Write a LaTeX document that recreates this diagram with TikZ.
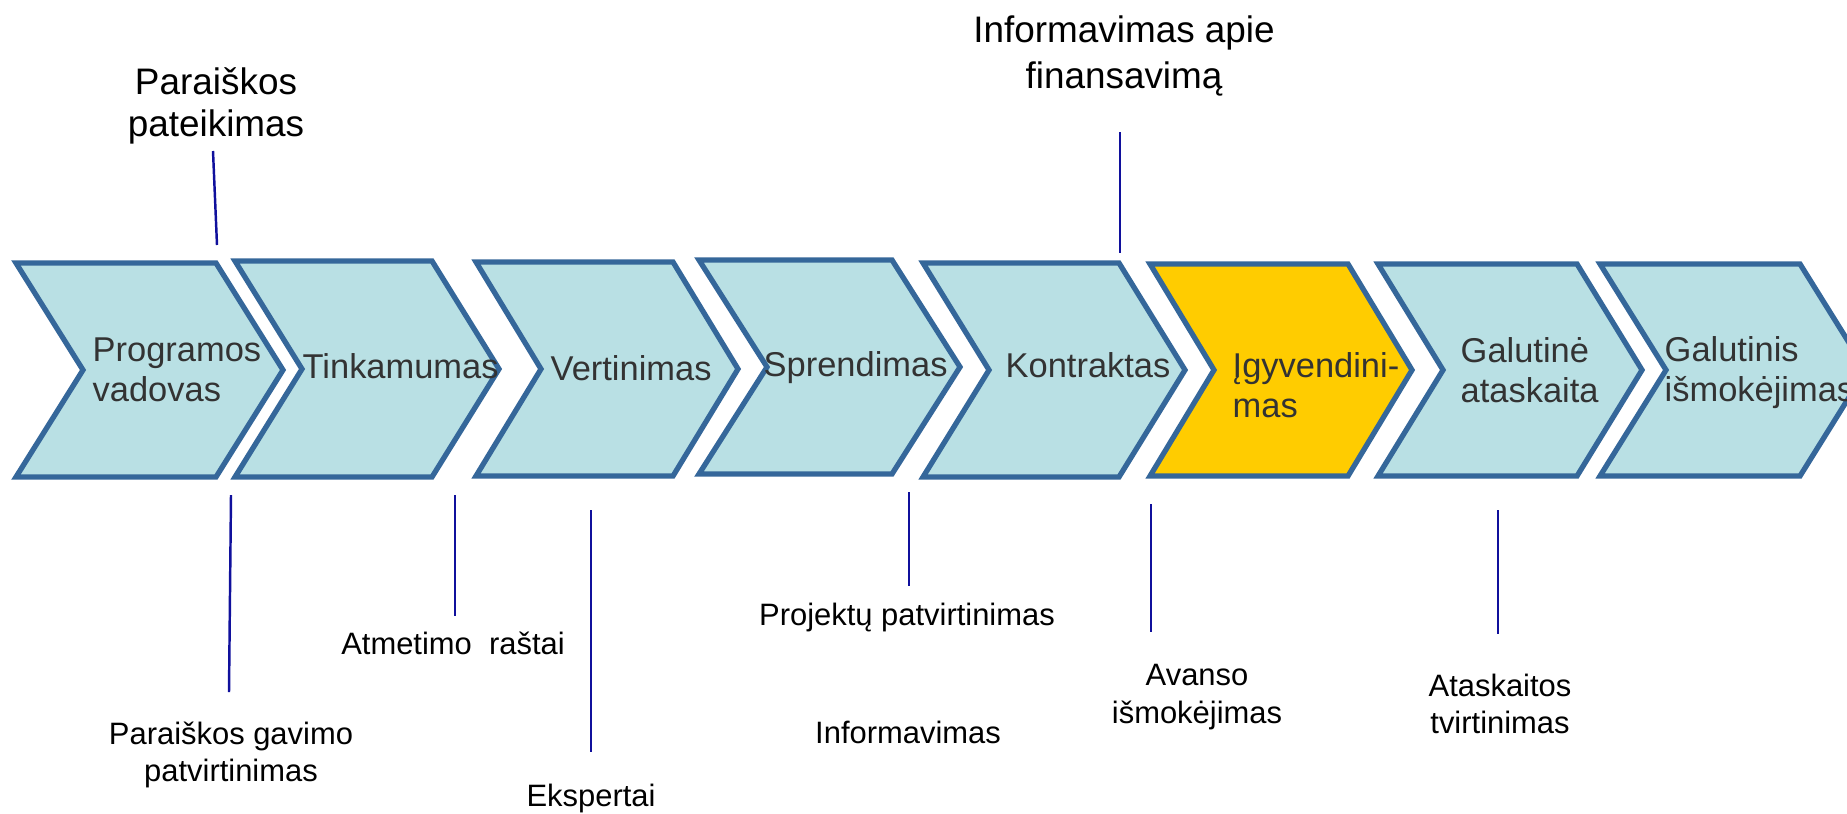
\documentclass[tikz,border=0pt]{standalone}
\usepackage{fontspec}
\setmainfont{Liberation Sans}
\begin{document}
\begin{tikzpicture}[x=0.1mm, y=-0.1mm,
  chev/.style={draw=colorframe, fill=colorstep, line width=1.5pt, line join=miter},
  chevtext/.style={inner sep=0pt, text=colortext, align=left, font=\fontsize{9.8}{11.4}\selectfont},
  toplabel/.style={inner sep=0pt, align=center, font=\fontsize{10.5}{11.8}\selectfont},
  botlabel/.style={inner sep=0pt, align=center, font=\fontsize{8.8}{10.7}\selectfont},
  tick/.style={draw=colortick, line width=0.7pt}]
% Define colors
\definecolor{colorframe}{HTML}{35679A}
\definecolor{colorstep}{HTML}{B9E0E4}
\definecolor{colornow}{HTML}{FFCC00}
\definecolor{colortext}{HTML}{333333}
\definecolor{colortick}{HTML}{10109C}
\useasboundingbox (0,0) rectangle (1847,813);
  %%%%%%%%%%%%%%%%%%%% The chevrons
  \filldraw[chev] (16,263) -- ++(200,0) -- ++(67,107) -- ++(-67,107) -- ++(-200,0) -- ++(67,-107) -- cycle;
  \filldraw[chev] (235,261) -- ++(197,0) -- ++(67,108) -- ++(-67,108) -- ++(-197,0) -- ++(67,-108) -- cycle;
  \filldraw[chev] (476,262) -- ++(197,0) -- ++(65,107) -- ++(-65,107) -- ++(-197,0) -- ++(65,-107) -- cycle;
  \filldraw[chev] (699,260) -- ++(193,0) -- ++(68,107) -- ++(-68,107) -- ++(-193,0) -- ++(68,-107) -- cycle;
  \filldraw[chev] (923,263) -- ++(196,0) -- ++(66,107) -- ++(-66,107) -- ++(-196,0) -- ++(66,-107) -- cycle;
  \filldraw[chev, fill=colornow] (1150,264) -- ++(198,0) -- ++(64,106) -- ++(-64,106) -- ++(-198,0) -- ++(64,-106) -- cycle;
  \filldraw[chev] (1378,264) -- ++(199,0) -- ++(65,106) -- ++(-65,106) -- ++(-199,0) -- ++(65,-106) -- cycle;
  \filldraw[chev] (1600,264) -- ++(200,0) -- ++(66,106) -- ++(-66,106) -- ++(-200,0) -- ++(66,-106) -- cycle;
  % Texts in the chevrons
  \node[chevtext, anchor=west] (prog) at (92,370) {Programos\\vadovas};
  \node[chevtext, anchor=base west] (tink) at (302,378) {Tinkamumas};
  \node[chevtext, anchor=base west] (vert) at (550,380) {Vertinimas};
  \node[chevtext, anchor=base west] (spre) at (763,376) {Sprendimas};
  \node[chevtext, anchor=base west] (kont) at (1005,377) {Kontraktas};
  \node[chevtext, anchor=west] (igyv) at (1232,385) {Įgyvendini-\\mas};
  \node[chevtext, anchor=west] (galat) at (1460,370) {Galutinė\\ataskaita};
  \node[chevtext, anchor=west] (galis) at (1664,373) {Galutinis\\išmokėjimas};
  %%%%%%%%%%%%%%%%%%%% Labels above
  \node[toplabel, anchor=north] (pateik) at (216,67) {Paraiškos\\pateikimas};
  \node[toplabel, anchor=north, font=\fontsize{10.5}{13.1}\selectfont] (finans) at (1124,15) {Informavimas apie\\finansavimą};
  %%%%%%%%%%%%%%%%%%%% Labels below
  \node[botlabel, anchor=north] (gavimo) at (231,721) {Paraiškos gavimo\\patvirtinimas};
  \node[botlabel, anchor=base] (atmet) at (453,654) {Atmetimo\ \ raštai};
  \node[botlabel, anchor=base] (eksp) at (591,806) {Ekspertai};
  \node[botlabel, anchor=base] (projekt) at (907,625) {Projektų patvirtinimas};
  \node[botlabel, anchor=base] (inform) at (908,743) {Informavimas};
  \node[botlabel, anchor=north] (avans) at (1197,664) {Avanso\\išmokėjimas};
  \node[botlabel, anchor=north] (atask) at (1500,673) {Ataskaitos\\tvirtinimas};
  % Tick ends
  \coordinate (pateikT) at (213,151); \coordinate (pateikB) at (217,245);
  \coordinate (finansT) at (1120,132); \coordinate (finansB) at (1120,253);
  \coordinate (gavimoT) at (231,495); \coordinate (gavimoB) at (229,692);
  \coordinate (atmetT) at (455,495); \coordinate (atmetB) at (455,616);
  \coordinate (ekspT) at (591,510); \coordinate (ekspB) at (591,752);
  \coordinate (projektT) at (909,492); \coordinate (projektB) at (909,586);
  \coordinate (avansT) at (1151,504); \coordinate (avansB) at (1151,632);
  \coordinate (ataskT) at (1498,510); \coordinate (ataskB) at (1498,634);
  % Draw ticks
  \draw[tick] (pateikT) -- (pateikB);
  \draw[tick] (finansT) -- (finansB);
  \draw[tick] (gavimoT) -- (gavimoB);
  \draw[tick] (atmetT) -- (atmetB);
  \draw[tick] (ekspT) -- (ekspB);
  \draw[tick] (projektT) -- (projektB);
  \draw[tick] (avansT) -- (avansB);
  \draw[tick] (ataskT) -- (ataskB);
\end{tikzpicture}
\end{document}
